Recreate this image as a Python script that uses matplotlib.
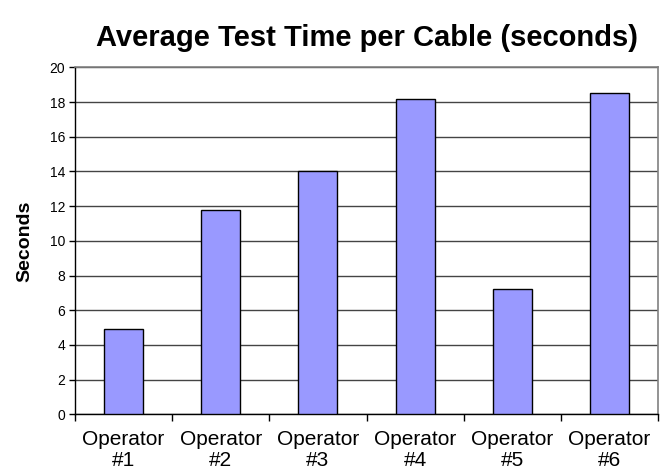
import numpy as np
import matplotlib
matplotlib.use("Agg")
import matplotlib.pyplot as plt

# values
operators = ["Operator\n#1", "Operator\n#2", "Operator\n#3",
             "Operator\n#4", "Operator\n#5", "Operator\n#6"]
avg_seconds = [4.9, 11.8, 14.0, 18.2, 7.2, 18.5]
y_ticks = [0, 2, 4, 6, 8, 10, 12, 14, 16, 18, 20]

plt.rcParams['font.family'] = ['Liberation Sans', 'DejaVu Sans']

fig = plt.figure(figsize=(6.63, 4.72), dpi=100)
ax = fig.add_axes([0.1131, 0.1222, 0.8794, 0.7352])

x = np.arange(len(operators))
ax.bar(x, avg_seconds, width=0.4, color="#9999ff", edgecolor="black",
       linewidth=1.0, zorder=3)

ax.set_xlim(-0.5, len(operators) - 0.5)
ax.set_ylim(0, 20)
ax.set_yticks(y_ticks)
ax.tick_params(axis='y', labelsize=10, direction='out', length=4, width=1, pad=3)

# category labels centred, tick marks between categories
ax.set_xticks(x)
ax.set_xticklabels(operators, fontsize=15, linespacing=1.15)
ax.tick_params(axis='x', which='major', length=0, pad=11)
ax.set_xticks(np.arange(-0.5, len(operators)), minor=True)
ax.tick_params(axis='x', which='minor', direction='out', length=5, width=1)

ax.yaxis.grid(True, color="#444444", linewidth=1.0, zorder=0)
ax.set_axisbelow(True)

for side in ['top', 'right']:
    ax.spines[side].set_color("#808080")
    ax.spines[side].set_linewidth(1.2)
ax.spines['left'].set_linewidth(1.0)
ax.spines['bottom'].set_linewidth(1.0)

ax.set_ylabel("Seconds", fontsize=14, fontweight='bold', labelpad=12)
ax.set_title("Average Test Time per Cable (seconds)", fontsize=21,
             fontweight='bold', pad=15)

fig.savefig("out.png", dpi=100)
